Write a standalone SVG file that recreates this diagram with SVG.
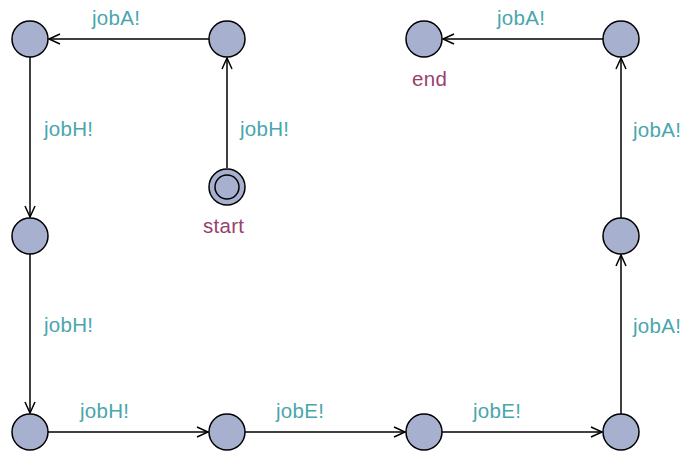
<svg xmlns="http://www.w3.org/2000/svg" width="684" height="453" viewBox="0 0 684 453">
<defs>
<marker id="arr" viewBox="-12 -7 14 14" refX="0" refY="0" markerWidth="14" markerHeight="14" markerUnits="userSpaceOnUse" orient="auto">
<path d="M -11 -5 L 0 0 L -11 5" fill="none" stroke="#000" stroke-width="1.5"/>
</marker>
<style>
.n{fill:#a8b0d0;stroke:#000;stroke-width:1.5}
.e{stroke:#000;stroke-width:1.5;fill:none;marker-end:url(#arr)}
.l{font-family:"Liberation Sans",Arial,sans-serif;font-size:20.5px;letter-spacing:0.3px;fill:#4aa6ac}
.nm{font-family:"Liberation Sans",Arial,sans-serif;font-size:20.5px;letter-spacing:0.3px;fill:#99406e}
</style>
</defs>
<rect width="684" height="453" fill="#fff"/>
<g id="edges">
<line class="e" x1="209" y1="39" x2="49" y2="39"/>
<line class="e" x1="30" y1="57" x2="30" y2="217"/>
<line class="e" x1="30" y1="254" x2="30" y2="413"/>
<line class="e" x1="48" y1="432" x2="208" y2="432"/>
<line class="e" x1="245" y1="432" x2="405" y2="432"/>
<line class="e" x1="442" y1="432" x2="602" y2="432"/>
<line class="e" x1="621" y1="414" x2="621" y2="255"/>
<line class="e" x1="621" y1="218" x2="621" y2="58"/>
<line class="e" x1="603" y1="39" x2="443" y2="39"/>
<line class="e" x1="227" y1="168" x2="227" y2="58"/>
<text class="l" x="92" y="25">jobA!</text>
<text class="l" x="497" y="25">jobA!</text>
<text class="l" x="44" y="136">jobH!</text>
<text class="l" x="240" y="136">jobH!</text>
<text class="l" x="44" y="332">jobH!</text>
<text class="l" x="80" y="418">jobH!</text>
<text class="l" x="276" y="418">jobE!</text>
<text class="l" x="473" y="418">jobE!</text>
<text class="l" x="633" y="137">jobA!</text>
<text class="l" x="633" y="333">jobA!</text>
</g>
<g id="n0"><circle class="n" cx="30" cy="39" r="18"/></g>
<g id="n1"><circle class="n" cx="227" cy="39" r="18"/></g>
<g id="end"><circle class="n" cx="424" cy="39" r="18"/><text class="nm" x="412" y="86">end</text></g>
<g id="n3"><circle class="n" cx="621" cy="39" r="18"/></g>
<g id="n4"><circle class="n" cx="30" cy="236" r="18"/></g>
<g id="n5"><circle class="n" cx="621" cy="236" r="18"/></g>
<g id="n6"><circle class="n" cx="30" cy="432" r="18"/></g>
<g id="n7"><circle class="n" cx="227" cy="432" r="18"/></g>
<g id="n8"><circle class="n" cx="424" cy="432" r="18"/></g>
<g id="n9"><circle class="n" cx="621" cy="432" r="18"/></g>
<g id="start"><circle class="n" cx="227" cy="187" r="18"/><circle class="n" cx="227" cy="187" r="12"/><text class="nm" x="203" y="233">start</text></g>
</svg>
